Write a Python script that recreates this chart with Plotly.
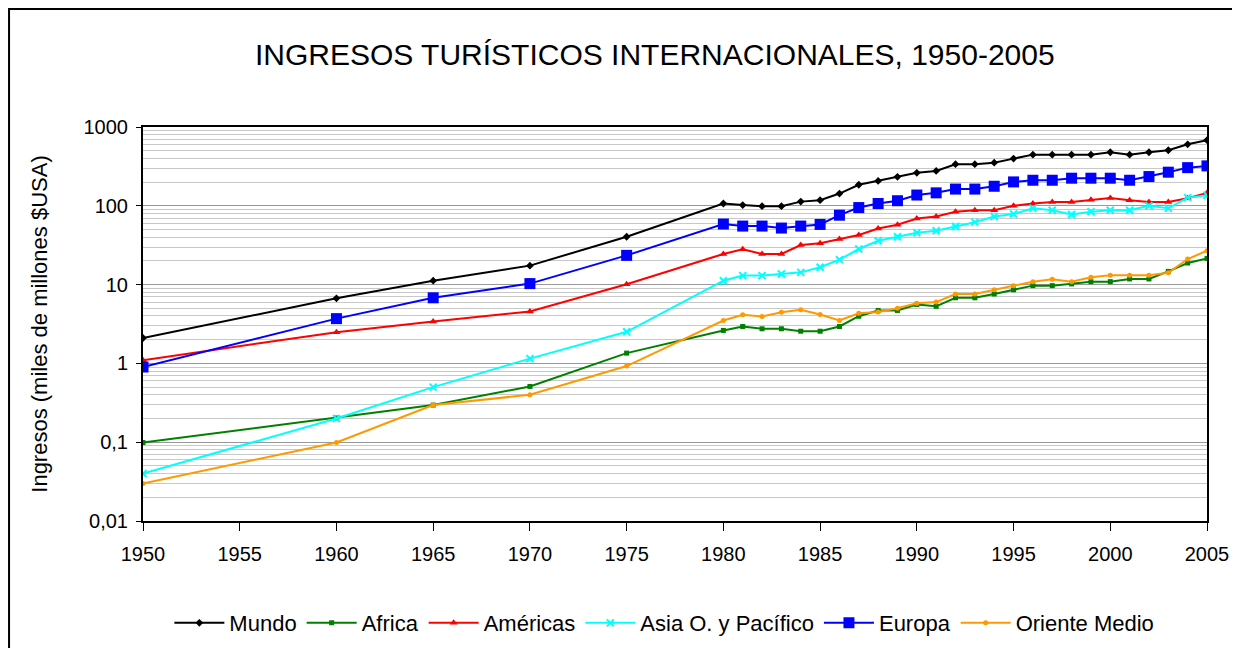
import plotly.graph_objects as go

years = [1950, 1960, 1965, 1970, 1975] + list(range(1980, 2006))

mundo = [2.1, 6.7, 11.2, 17.4, 40.5,
         107, 102, 99, 99, 113, 118, 143, 185,
         207, 233, 262, 277, 337, 337, 353, 397, 446, 446,
         446, 446, 478, 446, 478, 507, 603, 680]
africa = [0.099, 0.203, 0.296, 0.51, 1.35,
          2.62, 2.94, 2.75, 2.75, 2.56, 2.56, 2.94, 3.97,
          4.7, 4.7, 5.6, 5.3, 6.8, 6.8, 7.6, 8.6, 9.7, 9.7,
          10.2, 10.9, 10.9, 11.8, 11.8, 14.7, 18.8, 21.5]
americas = [1.1, 2.49, 3.4, 4.55, 10.1,
            24.5, 28, 24.5, 24.5, 31.8, 33.4, 37.9, 42.6,
            51.6, 57.5, 69, 73, 84, 88, 88, 100, 107, 112,
            112, 119, 126, 118, 112, 112, 125, 145]
asia = [0.040, 0.20, 0.50, 1.15, 2.52,
        11.2, 13, 13, 13.6, 14.3, 16.6, 20.7, 28.3,
        36, 40.5, 45.5, 48.3, 54.7, 62, 73, 78.5, 93, 88,
        77.6, 84, 88, 88, 100, 93, 127, 136]
europa = [0.9, 3.7, 6.8, 10.3, 23.5,
          58.7, 55.3, 55.3, 52.2, 55.3, 58, 76, 95,
          107, 116, 137, 146, 163, 163, 177, 201, 211, 211,
          224, 224, 224, 211, 235, 267, 305, 321]
oriente = [0.030, 0.099, 0.296, 0.40, 0.925,
           3.5, 4.13, 3.94, 4.47, 4.78, 4.17, 3.5, 4.33,
           4.5, 5.0, 5.8, 6.0, 7.6, 7.6, 8.6, 9.7, 10.9, 11.7,
           10.9, 12.4, 13.1, 13.1, 13.1, 14.1, 21.1, 26.9]

series_names = ["Mundo", "Africa", "Américas", "Asia O. y Pacífico", "Europa", "Oriente Medio"]
series_values = [mundo, africa, americas, asia, europa, oriente]
colors = ["#000000", "#008000", "#FF0000", "#00FFFF", "#0000FF", "#FF9900"]
symbols = ["diamond", "square", "triangle-up", "x-thin", "square", "circle"]
sizes = [6, 5, 7, 7, 11, 5]

y_tickvals = [0.01, 0.1, 1, 10, 100, 1000]
y_ticktext = ["0,01", "0,1", "1", "10", "100", "1000"]
x_tickvals = list(range(1950, 2006, 5))

FONT = "Arial, Liberation Sans, sans-serif"

fig = go.Figure()
for name, vals, c, s, sz in zip(series_names, series_values, colors, symbols, sizes):
    mk = dict(symbol=s, size=sz, color=c)
    if s == "x-thin":
        mk["line"] = dict(color=c, width=2)
    fig.add_trace(go.Scatter(x=years, y=vals, name=name, mode="lines+markers",
                             line=dict(color=c, width=2), marker=mk))

fig.update_layout(
    width=1232, height=640,
    margin=dict(l=135, r=33, t=119, b=127, autoexpand=False),
    paper_bgcolor="white", plot_bgcolor="white",
    font=dict(family=FONT, size=20, color="black"),
    title=dict(text="INGRESOS TURÍSTICOS INTERNACIONALES, 1950-2005",
               x=0.525, xanchor="center", y=0.9266, yanchor="middle",
               font=dict(size=30, family=FONT, color="black")),
    legend=dict(orientation="h", x=0.49, xanchor="center",
                yref="container", y=0.039, yanchor="middle",
                font=dict(size=22, family=FONT), itemwidth=50, tracegroupgap=0),
    showlegend=True,
)
fig.update_xaxes(range=[1950, 2005], tickvals=x_tickvals, ticks="outside", ticklen=8,
                 tickcolor="black", showgrid=False, showline=True, linecolor="black",
                 linewidth=2, mirror=True, zeroline=False, tickfont=dict(size=20),
                 ticklabelstandoff=6)
fig.update_yaxes(type="log", range=[-2, 3], tickvals=y_tickvals, ticktext=y_ticktext,
                 ticks="outside", ticklen=5, tickcolor="black", showline=True,
                 linecolor="black", linewidth=2, mirror=True,
                 showgrid=True, gridcolor="#999999", gridwidth=1,
                 minor=dict(dtick="D1", showgrid=True, gridcolor="#c8c8c8", gridwidth=1),
                 title=dict(text="Ingresos (miles de millones $USA)", standoff=30,
                            font=dict(size=22, family=FONT)),
                 tickfont=dict(size=20), ticklabelstandoff=4)

fig.add_shape(type="rect", xref="paper", yref="paper",
              x0=-0.1259, x1=1.06, y0=-0.4, y1=1.2995,
              line=dict(color="black", width=2), fillcolor="rgba(0,0,0,0)", layer="below")

fig.write_html("out.html")
